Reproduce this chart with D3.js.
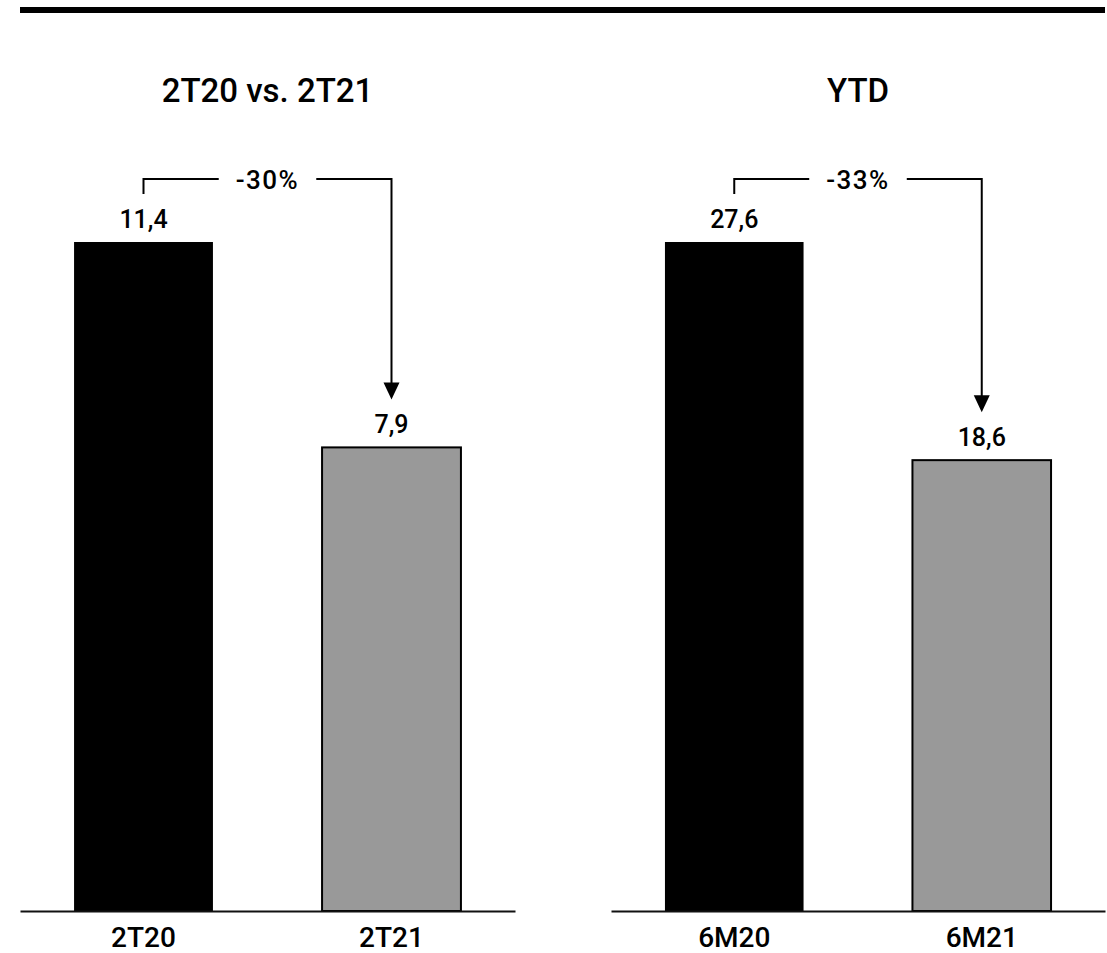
<!DOCTYPE html>
<html>
<head>
<meta charset="utf-8">
<script src="https://cdn.jsdelivr.net/npm/d3@7"></script>
<style>
  html, body { margin: 0; padding: 0; background: #fff; }
  svg { display: block; }
  text { font-family: Roboto, "DejaVu Sans", sans-serif; fill: #000; }
</style>
</head>
<body>
<svg id="chart" width="1107" height="953"></svg>
<script>
// ---- data ----
const panelTitles = ["2T20 vs. 2T21", "YTD"];
const categoriesQuarter = ["2T20", "2T21"];
const valuesQuarter = [11.4, 7.9];
const changeQuarter = "-30%";
const categoriesYtd = ["6M20", "6M21"];
const valuesYtd = [27.6, 18.6];
const changeYtd = "-33%";
const barColors = ["#000000", "#999999"];

const panels = [
  { title: panelTitles[0], cats: categoriesQuarter, vals: valuesQuarter, change: changeQuarter, x0: 20, x1: 515 },
  { title: panelTitles[1], cats: categoriesYtd, vals: valuesYtd, change: changeYtd, x0: 611, x1: 1105 }
];

const svg = d3.select("#chart");
const fmt = v => d3.format(".1f")(v).replace(".", ",");

// top rule
svg.append("rect").attr("x", 20).attr("y", 7).attr("width", 1085).attr("height", 6).attr("fill", "#000");

const yBase = 911, yTop = 242;

panels.forEach(p => {
  const g = svg.append("g");
  const x = d3.scaleBand().domain(p.cats).range([p.x0, p.x1]).paddingInner(0.44).paddingOuter(0.218);
  const y = d3.scaleLinear().domain([0, d3.max(p.vals)]).range([yBase, yTop]);
  const data = p.cats.map((c, i) => ({ c, v: p.vals[i], color: barColors[i] }));

  // title
  g.append("text").attr("x", (p.x0 + p.x1) / 2).attr("y", 102)
    .attr("text-anchor", "middle").attr("font-size", 33).attr("font-weight", 500)
    .text(p.title);

  // bars
  g.selectAll("rect.bar").data(data).join("rect").attr("class", "bar")
    .attr("x", d => x(d.c)).attr("width", x.bandwidth())
    .attr("y", d => y(d.v)).attr("height", d => yBase - y(d.v))
    .attr("fill", d => d.color)
    .attr("stroke", "#000").attr("stroke-width", d => d.color === "#000000" ? 0 : 2);

  // baseline axis
  const axis = d3.axisBottom(x).tickSize(0).tickPadding(16);
  const ag = g.append("g").attr("transform", `translate(0,${yBase})`).call(axis);
  ag.select(".domain").attr("stroke", "#111").attr("stroke-width", 2.2);
  ag.selectAll(".tick text").attr("font-size", 28).attr("font-weight", 500)
    .attr("font-family", "Roboto, 'DejaVu Sans', sans-serif").attr("fill", "#000")
    .attr("dy", "0.71em");

  // value labels
  g.selectAll("text.val").data(data).join("text").attr("class", "val")
    .attr("x", d => x(d.c) + x.bandwidth() / 2).attr("y", d => y(d.v) - 14)
    .attr("text-anchor", "middle").attr("font-size", 25).attr("font-weight", 500)
    .text(d => fmt(d.v));

  // bracket with arrow
  const cx0 = x(p.cats[0]) + x.bandwidth() / 2;
  const cx1 = x(p.cats[1]) + x.bandwidth() / 2;
  const yBr = y(p.vals[0]) - 63;
  const yLeftEnd = y(p.vals[0]) - 48;
  const yTip = y(p.vals[1]) - 48;
  const mid = (cx0 + cx1) / 2;

  const t = g.append("text").attr("x", mid).attr("y", yBr + 10)
    .attr("text-anchor", "middle").attr("font-size", 26).attr("font-weight", 500)
    .attr("letter-spacing", 1.5)
    .text(p.change);
  const tw = t.node().getComputedTextLength();
  const gap = 17;
  const line = d3.line();
  g.append("path").attr("d", line([[cx0, yLeftEnd], [cx0, yBr], [mid - tw / 2 - gap, yBr]]))
    .attr("fill", "none").attr("stroke", "#000").attr("stroke-width", 2);
  g.append("path").attr("d", line([[mid + tw / 2 + gap, yBr], [cx1, yBr], [cx1, yTip - 16]]))
    .attr("fill", "none").attr("stroke", "#000").attr("stroke-width", 2);
  g.append("path").attr("d", line([[cx1 - 8, yTip - 17], [cx1 + 8, yTip - 17], [cx1, yTip]]) + "Z")
    .attr("fill", "#000");
});
</script>
</body>
</html>
